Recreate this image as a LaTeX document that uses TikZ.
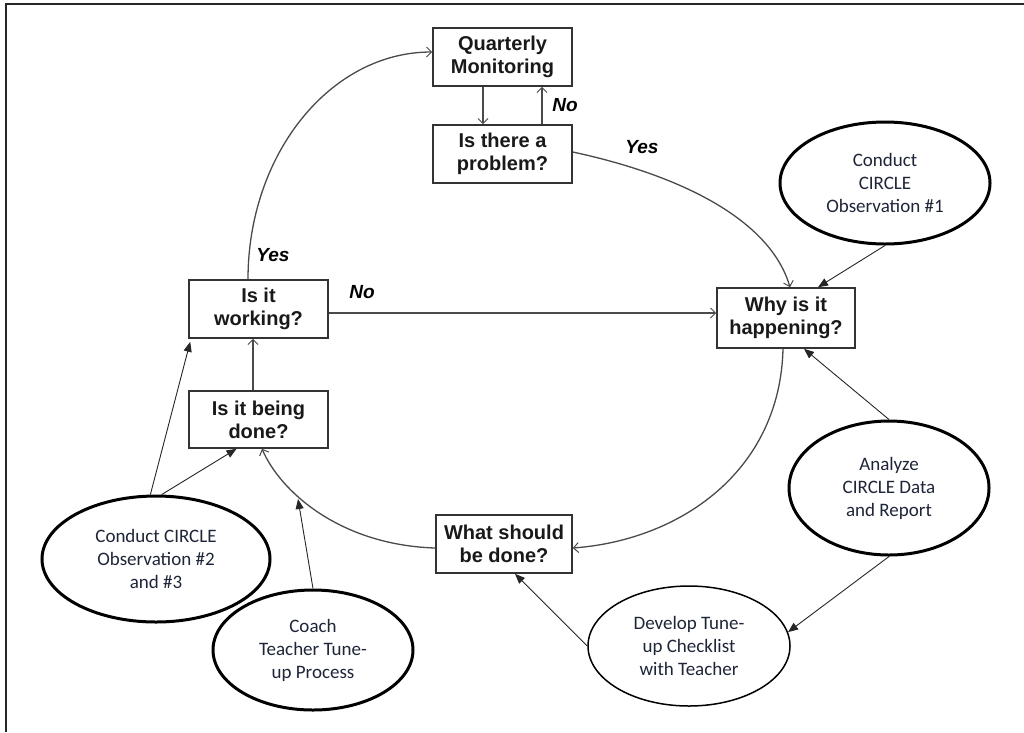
\documentclass[tikz,border=0pt]{standalone}
\usepackage{fontspec}
\setmainfont{Liberation Sans}
\newfontfamily\calfont{Carlito}
\usetikzlibrary{shapes.geometric,arrows.meta}
\definecolor{boxline}{HTML}{333333}
\definecolor{conn}{HTML}{4A4A4A}
\definecolor{elltext}{HTML}{1E2538}
\tikzset{
  qbox/.style={draw=boxline, line width=1.6pt, minimum width=139pt, minimum height=58pt,
    inner sep=0pt, align=center, font=\fontsize{20}{23}\selectfont\bfseries, text=black!90},
  oval/.style={draw=black, line width=3pt, ellipse, inner sep=0pt, align=center,
    font=\calfont\fontsize{19}{23}\selectfont, text=elltext},
  flow/.style={draw=conn, line width=1.3pt, -{Straight Barb[length=5pt,width=10pt,line width=1pt]}},
  feed/.style={draw=black!85, line width=0.9pt, -{Triangle[length=10pt,width=8pt]}},
  lab/.style={font=\fontsize{19}{22}\selectfont\bfseries\itshape, inner sep=0pt}
}
\begin{document}
\begin{tikzpicture}[x=1pt,y=-1pt]
\useasboundingbox (0,0) rectangle (1024,732);
\fill[white] (0,0) rectangle (1024,732);
% frame
\draw[line width=2pt, black!85] (6,732) -- (6,3.5) -- (1024,3.5);

% boxes
\node[qbox] (qm) at (502.5,57) {Quarterly\\Monitoring};
\node[qbox] (prob) at (502.5,154) {Is there a\\problem?};
\node[qbox] (work) at (258.5,309) {Is it\\working?};
\node[qbox, minimum height=57pt] (done) at (258.5,419.5) {Is it being\\done?};
\node[qbox, minimum width=138pt, minimum height=60pt] (why) at (786,318) {Why is it\\happening?};
\node[qbox, minimum width=136pt] (what) at (504,544) {What should\\be done?};

% ovals
\node[oval, minimum width=210pt, minimum height=122pt] (obs1) at (885,183) {Conduct\\CIRCLE\\Observation \#1};
\node[oval, minimum width=200pt, minimum height=134pt] (ana) at (889,488) {Analyze\\CIRCLE Data\\and Report};
\node[oval, line width=1.5pt, minimum width=202pt, minimum height=120pt] (dev) at (689,646) {Develop Tune-\\up Checklist\\with Teacher};
\node[oval, minimum width=200pt, minimum height=120pt] (coach) at (313,650) {Coach\\Teacher Tune-\\up Process};
\node[oval, minimum width=228pt, minimum height=126pt] (obs2) at (156,559) {Conduct CIRCLE\\Observation \#2\\and \#3};

% flow connectors
\draw[flow] ([xshift=-19.5pt]qm.south) -- ([xshift=-19.5pt]prob.north);
\draw[flow] ([xshift=39.5pt]prob.north) -- ([xshift=39.5pt]qm.south);
\draw[flow] ([xshift=-10.5pt]work.north) .. controls +(0,-125) and +(-102,0) .. ([yshift=5pt]qm.west);
\draw[flow] ([yshift=2pt]prob.east) .. controls +(107,23) and +(-20,-68) .. ([xshift=4pt]why.north);
\draw[flow] ([yshift=-4pt]work.east) -- ([yshift=-4pt]work.east -| why.west);
\draw[flow] ([xshift=-5.5pt]done.north) -- ([xshift=-5.5pt]work.south);
\draw[flow] ([xshift=-3pt]why.south) .. controls +(-3,122) and +(108,-8) .. ([yshift=-4pt]what.east);
\draw[flow] ([yshift=-4pt]what.west) .. controls +(-96,-3) and +(18,42) .. ([xshift=3.5pt]done.south);

% labels
\node[lab] (l1) at (565,105) {No};
\node[lab] (l2) at (642,147) {Yes};
\node[lab] (l3) at (273,255) {Yes};
\node[lab] (l4) at (362,292) {No};

% feeder connectors
\coordinate (cc) at (298,499);
\draw[feed] (obs1.south) -- ([xshift=32pt]why.north);
\draw[feed] (ana.north) -- ([xshift=18pt]why.south);
\draw[feed] (ana.south) -- (dev.8);
\draw[feed] (dev.west) -- ([xshift=11pt]what.south);
\draw[feed] (coach.north) -- (cc);
\draw[feed] (obs2.95) -- ([xshift=2pt,yshift=-3pt]work.south west);
\draw[feed] (obs2.85) -- ([xshift=-22pt]done.south);
\end{tikzpicture}
\end{document}
